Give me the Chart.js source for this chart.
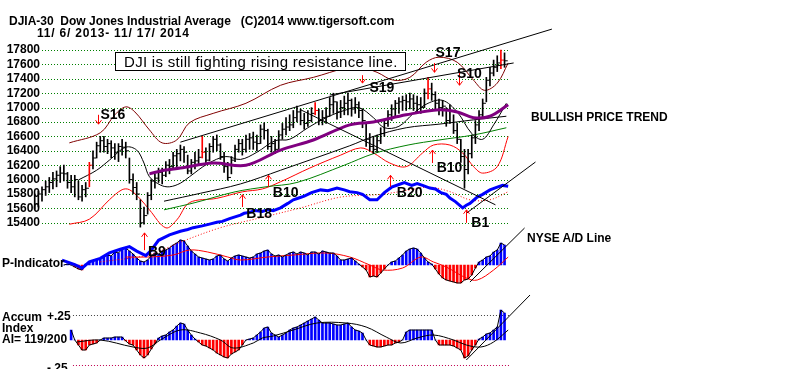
<!DOCTYPE html>
<html>
<head>
<meta charset="utf-8">
<script src="https://cdn.jsdelivr.net/npm/chart.js@4.4.1/dist/chart.umd.min.js"></script>
<style>
  body { margin: 0; background: #fff; }
  #wrap { position: relative; width: 800px; height: 369px; overflow: hidden; }
  #chart { position: absolute; left: 0; top: 0; }
  .lbl { position: absolute; font: bold 12px "Liberation Sans", Arial, sans-serif; color: #000; white-space: pre; line-height: 14px; }
  .sig { font-size: 14px; line-height: 16px; }
  #note { position: absolute; left: 115px; top: 52px; width: 291px; height: 19px; box-sizing: border-box; border: 1px solid #000; background: #fff;
          font: 15px "Liberation Sans", Arial, sans-serif; line-height: 17px; padding-left: 8px; white-space: pre; color: #000; letter-spacing: 0.3px; }
</style>
</head>
<body>
<div id="wrap">
  <canvas id="chart" width="800" height="369"></canvas>
  <div class="lbl" style="left:9px;top:14px">DJIA-30  Dow Jones Industrial Average   (C)2014 www.tigersoft.com</div>
  <div class="lbl" style="left:37px;top:26px;letter-spacing:0.8px">11/ 6/ 2013- 11/ 17/ 2014</div>
  <div id="note">DJI is still fighting rising resistance line.</div>
  <div class="lbl" style="left:531px;top:110px">BULLISH PRICE TREND</div>
  <div class="lbl" style="left:527px;top:231px">NYSE A/D Line</div>
  <div class="lbl" style="left:2px;top:256px">P-Indicator</div>
  <div class="lbl" style="left:2px;top:310px">Accum</div>
  <div class="lbl" style="left:2px;top:321px">Index</div>
  <div class="lbl" style="left:2px;top:332px">AI= 119/200</div>
  <div class="lbl" style="left:47px;top:309px">+.25</div>
  <div class="lbl" style="left:47px;top:361px">-.25</div>
</div>
<script>
// trading day index: 0 = 11/6/2013 ... 259 = 11/17/2014, one bar every 2 days
const priceTicks = [15400, 15600, 15800, 16000, 16200, 16400, 16600, 16800, 17000, 17200, 17400, 17600, 17800];

const barLow = [
  15590,15620,15700,15780,15820,15870,15900,15960,15980,15880,
  15820,15760,15720,15700,15760,15900,16150,16300,16380,16380,
  16360,16300,16280,16250,16340,16300,15950,15800,15720,15340,
  15380,15520,15720,15880,15960,15940,16040,16080,16150,16180,
  16260,16240,16080,16080,16150,16200,16300,16220,16260,16380,
  16400,16280,16100,15990,16080,16250,16380,16340,16380,16420,
  16420,16400,16500,16560,16420,16380,16360,16420,16560,16620,
  16680,16720,16800,16760,16700,16740,16800,16900,16760,16760,
  16780,16880,16920,16840,16860,16900,16900,16880,16920,16860,
  16720,16460,16400,16360,16380,16500,16600,16740,16820,16880,
  16920,16960,16960,16980,16960,16920,16920,17000,17120,17100,
  16980,16900,16880,16740,16780,16640,16500,16240,15880,16080,
  16300,16500,16680,16860,17080,17300,17440,17500,17540,17560];
const barHigh = [
  15800,15840,15900,15980,16030,16100,16120,16180,16200,16100,
  16060,16060,15980,15920,15960,16240,16400,16520,16600,16600,
  16560,16540,16500,16500,16560,16520,16300,16080,15960,15720,
  15620,15820,16000,16080,16160,16160,16250,16280,16380,16420,
  16480,16460,16340,16280,16380,16420,16600,16440,16500,16600,
  16620,16500,16380,16240,16320,16480,16560,16560,16620,16640,
  16660,16620,16760,16790,16700,16600,16560,16680,16780,16860,
  16900,16960,17020,16980,16920,16960,17000,17070,16980,16960,
  17000,17140,17200,17080,17100,17160,17200,17120,17140,17080,
  16980,16780,16640,16600,16620,16720,16840,16960,17040,17100,
  17140,17160,17180,17200,17180,17160,17140,17260,17420,17340,
  17220,17120,17100,17000,17040,16900,16780,16560,16420,16420,
  16620,16820,16960,17120,17420,17560,17660,17720,17800,17760];
const barClose = [
  15760,15800,15860,15900,15960,16010,16060,16090,16080,15960,
  15900,16000,15760,15860,15880,16200,16300,16470,16540,16460,
  16500,16440,16380,16460,16450,16400,16000,15890,15800,15400,
  15500,15780,15980,16020,16100,16060,16200,16180,16330,16360,
  16420,16380,16120,16240,16260,16310,16380,16270,16460,16560,
  16480,16320,16180,16030,16270,16420,16500,16420,16560,16580,
  16520,16500,16700,16680,16460,16500,16420,16620,16700,16730,
  16760,16860,16940,16820,16780,16820,16920,16960,16820,16860,
  16880,17040,17080,16940,17000,17060,17100,16980,17040,16960,
  16820,16560,16460,16420,16540,16640,16780,16900,16980,17060,
  17080,17100,17080,17120,17060,17040,17000,17200,17260,17180,
  17060,17000,17020,16820,16960,16680,16560,16320,16140,16360,
  16580,16760,16900,17060,17380,17480,17560,17620,17660,17650];
const redBars = [15, 46, 77, 108, 128];

const ma21Day = [24,34,41,50,56,60,63,69,74,80,85,95,105,113,122,132,140,150,160,170,178,186,192,200,208,216,224,232,240,246,252,259];
const ma21 = [15995,16130,16270,16450,16410,16230,16040,15925,15900,15950,16040,16220,16320,16280,16380,16540,16560,16720,16860,16960,17000,16860,16720,16740,16920,17060,17100,16940,16640,16560,16760,17060];
const purpleDay = [63,71,80,98,116,135,153,173,186,204,222,232,241,250,260];
const purple = [16080,16130,16160,16230,16200,16410,16550,16760,16800,16900,16970,16940,16860,16880,17040];
const greenDay = [71,88,110,127,144,170,186,205,222,241,259];
const green = [15580,15680,15830,15900,15960,16200,16360,16480,16550,16620,16720];
const lowLineDay = [71,91,113,135,173,186,204,222,241,259];
const lowLine = [15700,15810,15940,16130,16470,16600,16720,16770,16830,16880];
const upperDay = [19,36,44,50,55,63,70,78,85,98,116,135,153,171,179,188,197,206,215,222,232,241,247,254,260];
const upper = [16510,16650,16900,17010,16940,16690,16510,16550,16790,16920,17060,17310,17420,17550,17560,17490,17380,17420,17630,17700,17630,17380,17240,17340,17620];
const lowerDay = [19,30,41,48,52,58,63,72,78,85,100,114,125,135,151,168,179,186,195,204,213,219,228,235,241,246,254,260];
const lower = [15380,15450,15720,15860,15860,15730,15580,15330,15440,15680,15740,15830,15870,15970,16160,16340,16440,16370,16230,16180,16370,16480,16480,16370,16180,16090,16180,16600];

// trend lines: [start, end]
const resistADay = [80, 284], resistA = [16520, 18090];
const resistBDay = [162, 263], resistB = [17175, 17620];
const fallDay = [146, 253], fall = [16970, 15650];

// NYSE A/D line (relative units)
const adDay = [15,22,26,30,36,41,47,52,56,61,64,68,74,80,84,87,92,96,100,103,107,110,113,115,118,121,125,128,131,135,139,142,145,148,152,157,161,166,170,173,177,180,184,188,190,192,196,200,203,207,210,213,217,220,223,226,228,231,235,237,239,243,246,250,254,257,260];
const adLine = [11,6,2,9,13,19,23,26,21,16,22,33,39,43,45,47,49,51,53,54,57,59,61,63,64,66,65,67,66,69,74,78,80,82,86,89,88,91,89,87,86,84,78,78,82,86,92,95,97,94,96,94,91,90,86,84,80,76,69,72,74,81,84,89,92,94,93];
const adMaDay = [36,63,80,102,124,146,168,190,206,217,228,239,250,260];
const adMa = [9,17,31,47,58,69,81,84,89,92,87,78,78,87];
const adTrendDay = [237, 275], adTrend = [63, 120];

// P-Indicator, one value per bar
const pInd = [
  null,null,null,null,null,null,null,null,0,1,
  0,-2,-4,-5,1,3,4,5,6,8,
  10,9,13,12,16,17,14,11,7,4,
  3,5,9,12,11,14,15,17,20,22,
  25,24,19,14,11,8,7,6,5,6,
  9,10,6,4,7,9,10,9,8,7,
  8,11,12,14,15,11,9,10,8,10,
  12,13,11,13,12,10,13,13,11,14,
  13,12,12,9,5,5,6,7,4,1,
  -2,-5,-12,-11,-12,-8,-4,0,3,4,
  7,10,14,16,17,16,12,7,3,1,
  -4,-9,-13,-15,-16,-17,-18,-18,-15,-14,
  -10,-3,3,5,8,9,13,15,22,20];
const pMaDay = [50,62,76,85,95,106,113,128,142,160,173,184,191,202,212,219,226,237,243,252,260];
const pMa = [8,8,10,15,13,8,5,8,10,12,8,0,-5,-3,8,3,-2,-13,-15,-5,8];
const pTrendDay = [239, 269], pTrend = [-17, 37];

// Accumulation Index, one value per bar
const accum = [
  null,null,null,null,null,null,null,null,null,null,
  0.10,0,-0.05,-0.10,-0.10,-0.05,-0.04,-0.03,0,0.02,
  0.02,0.02,0.03,0.03,0.03,-0.01,-0.04,-0.05,-0.10,-0.15,
  -0.18,-0.15,-0.09,-0.04,0.02,0.04,0.05,0.08,0.10,0.14,
  0.17,0.16,0.10,0.05,0.01,-0.02,-0.05,-0.06,-0.08,-0.10,
  -0.13,-0.15,-0.17,-0.18,-0.14,-0.12,-0.10,-0.05,0,0.01,
  0.02,0.05,0.08,0.12,0.13,0.07,0.05,0.03,0.05,0.07,
  0.10,0.12,0.13,0.15,0.17,0.19,0.21,0.23,0.20,0.17,
  0.17,0.17,0.16,0.15,0.15,0.16,0.17,0.13,0.10,0.09,
  0.07,0,-0.05,-0.06,-0.07,-0.07,-0.06,-0.05,-0.05,-0.03,
  -0.02,0,0.08,0.10,0.10,0.10,0.10,0.10,0.10,0.10,
  0,-0.05,-0.05,-0.05,-0.05,-0.06,-0.08,-0.10,-0.18,-0.16,
  -0.10,-0.05,0.01,0.03,0.06,0.07,0.10,0.13,0.30,0.27];
const aiMaDay = [23,36,54,62,69,80,91,102,109,120,125,131,142,155,171,182,193,201,210,219,230,237,245,252,260];
const aiMa = [-0.02,0,-0.07,-0.08,0,0.10,0.07,0,-0.08,-0.03,0.02,0.04,0.10,0.17,0.17,0.13,0.03,-0.03,0.02,0.05,0,-0.05,-0.07,-0.02,0.10];
const aiTrendDay = [237, 272], aiTrend = [-0.20, 0.45];
const aiLevels = [0.25, -0.25];

// buy / sell signals: arrow from sigFrom to sigTo (price)
const sigLabel = ['S16', 'B9', 'B18', 'B10', 'S19', 'B20', 'B10', 'S17', 'S10', 'B1'];
const sigDay   = [35, 60, 114, 128, 180, 195, 218, 219, 233, 237];
const sigFrom  = [16900, 15020, 15620, 15900, 17450, 15900, 16230, 17620, 17490, 15400];
const sigTo    = [16770, 15260, 15790, 16060, 17340, 16060, 16410, 17490, 17310, 15580];
// label offset from arrow tip, px
const sigOffset = [[2,-10],[4,18],[4,18],[5,17],[7,4],[7,17],[5,17],[2,-20],[-2,-12],[5,12]];

const days = barLow.map((_, i) => i * 2);
const xy = (xs, ys) => xs.map((x, i) => ({ x: x, y: ys[i] }));
const barColors = days.map((d, i) => redBars.includes(i) ? '#ff0000' : '#000000');

function line(data, axis, color, width, order, extra) {
    return Object.assign({
        type: 'line', data: data, yAxisID: axis, borderColor: color, borderWidth: width,
        pointRadius: 0, fill: false, tension: 0.35, clip: false, order: order
    }, extra || {});
}

const histColor = ctx => (ctx.raw && ctx.raw.y < 0) ? '#ff0000' : '#0000ff';
const pData = days.map((d, i) => ({ x: d, y: pInd[i] })).filter(p => p.y !== null);
const aiData = days.map((d, i) => ({ x: d, y: accum[i] })).filter(p => p.y !== null);

const panelPlugin = {
    id: 'panels',
    beforeDatasetsDraw(chart) {
        const { ctx, chartArea, scales } = chart;
        ctx.save();
        ctx.lineWidth = 1;
        ctx.setLineDash([1, 2]);
        ctx.strokeStyle = '#008000';
        priceTicks.forEach(v => {
            const y = Math.round(scales.yP.getPixelForValue(v)) + 0.5;
            ctx.beginPath(); ctx.moveTo(chartArea.left, y); ctx.lineTo(chartArea.right, y); ctx.stroke();
        });
        aiLevels.forEach((v, i) => {
            const y = Math.round(scales.yAI.getPixelForValue(v)) + 0.5;
            ctx.strokeStyle = i === 0 ? '#404040' : '#c00050';
            ctx.beginPath(); ctx.moveTo(scales.x.getPixelForValue(21), y); ctx.lineTo(chartArea.right, y); ctx.stroke();
        });
        ctx.restore();
    },
    afterDatasetsDraw(chart) {
        const { ctx, scales } = chart;
        ctx.save();
        ctx.strokeStyle = '#ff0000';
        ctx.lineWidth = 1;
        sigDay.forEach((d, i) => {
            const x = Math.round(scales.x.getPixelForValue(d)) + 0.5;
            const y1 = scales.yP.getPixelForValue(sigFrom[i]);
            const y2 = scales.yP.getPixelForValue(sigTo[i]);
            const dir = y2 > y1 ? 1 : -1;
            ctx.beginPath();
            ctx.moveTo(x, y1); ctx.lineTo(x, y2);
            ctx.moveTo(x - 3, y2 - dir * 4); ctx.lineTo(x, y2); ctx.lineTo(x + 3, y2 - dir * 4);
            ctx.stroke();
        });
        ctx.restore();
    }
};

Chart.defaults.font.family = '"Liberation Sans", Arial, sans-serif';
Chart.defaults.color = '#000';

const chart = new Chart(document.getElementById('chart').getContext('2d'), {
    type: 'line',
    data: {
        datasets: [
            line(xy(resistADay, resistA), 'yP', '#000', 1, 2, { tension: 0 }),
            line(xy(resistBDay, resistB), 'yP', '#000', 1, 2, { tension: 0 }),
            line(xy(fallDay, fall), 'yP', '#000', 1, 2, { tension: 0 }),
            line(xy(adTrendDay, adTrend), 'yAD', '#000', 1, 2, { tension: 0 }),
            line(xy(pTrendDay, pTrend), 'yPI', '#000', 1, 2, { tension: 0 }),
            line(xy(aiTrendDay, aiTrend), 'yAI', '#000', 1, 2, { tension: 0 }),
            line(xy(adDay, adLine), 'yAD', '#0000ff', 3, 3, { tension: 0 }),
            line(xy(adMaDay, adMa), 'yAD', '#ff0000', 1, 4, { borderDash: [1, 2] }),
            line(xy(purpleDay, purple), 'yP', '#800080', 3, 5),
            {
                type: 'bar', yAxisID: 'yP', order: 6, grouped: false, clip: false,
                data: days.map((d, i) => ({ x: d, y: [barLow[i], barHigh[i]] })),
                backgroundColor: barColors, barThickness: 1
            },
            {
                type: 'line', yAxisID: 'yP', order: 6, showLine: false, clip: false,
                data: days.map((d, i) => ({ x: d + 0.9, y: barClose[i] })),
                pointStyle: 'line', pointRadius: 1.6, pointBorderWidth: 1, pointBorderColor: barColors
            },
            line(xy(ma21Day, ma21), 'yP', '#000', 1, 8),
            line(xy(lowLineDay, lowLine), 'yP', '#000', 1, 8),
            line(xy(greenDay, green), 'yP', '#008000', 1, 8),
            line(xy(upperDay, upper), 'yP', '#800000', 1, 8),
            line(xy(lowerDay, lower), 'yP', '#ff0000', 1, 8),
            line(pData, 'yPI', '#000', 1, 9, { tension: 0 }),
            line(xy(pMaDay, pMa), 'yPI', '#ff0000', 1, 9),
            line(aiData, 'yAI', '#000', 1, 9, { tension: 0 }),
            line(xy(aiMaDay, aiMa), 'yAI', '#000', 1, 9),
            { type: 'bar', yAxisID: 'yPI', order: 10, grouped: false, data: pData, backgroundColor: histColor, barThickness: 2 },
            { type: 'bar', yAxisID: 'yAI', order: 10, grouped: false, data: aiData, backgroundColor: histColor, barThickness: 2 }
        ]
    },
    options: {
        responsive: false,
        animation: false,
        events: [],
        layout: { padding: { left: 0, right: 290, top: 0, bottom: 0 } },
        plugins: { legend: { display: false }, tooltip: { enabled: false } },
        scales: {
            x: { type: 'linear', min: 4, max: 261, offset: false, display: false },
            yP: {
                position: 'left', min: 15000, max: 18200,
                afterFit: s => { s.width = 42; },
                afterBuildTicks: s => { s.ticks = priceTicks.map(v => ({ value: v })); },
                grid: { display: false, drawTicks: false },
                border: { display: false },
                ticks: { autoSkip: false, padding: 2, color: '#000', font: { size: 12, weight: 'bold' }, callback: v => String(v) }
            },
            yAD: { display: false, min: 0, max: 100 },
            yPI: { display: false, min: -100, max: 100 },
            yAI: { display: false, min: -1, max: 1 }
        }
    },
    plugins: [panelPlugin]
});

// map each panel's values to its place on the picture
const area = chart.chartArea;
function fit(id, v0, y0, pxPerUnit) {
    const s = chart.options.scales[id];
    s.min = v0 - (area.bottom - y0) / pxPerUnit;
    s.max = v0 + (y0 - area.top) / pxPerUnit;
}
fit('yP', 17800, 50, 14.4 / 200);
fit('yAD', 0, 270, 0.9);
fit('yPI', 0, 265, 1);
fit('yAI', 0, 340, 100);
chart.update('none');

const wrap = document.getElementById('wrap');
sigLabel.forEach((t, i) => {
    const el = document.createElement('div');
    el.className = 'lbl sig';
    el.textContent = t;
    el.style.left = (chart.scales.x.getPixelForValue(sigDay[i]) + sigOffset[i][0]) + 'px';
    el.style.top = (chart.scales.yP.getPixelForValue(sigTo[i]) + sigOffset[i][1] - 8) + 'px';
    wrap.appendChild(el);
});
</script>
</body>
</html>
